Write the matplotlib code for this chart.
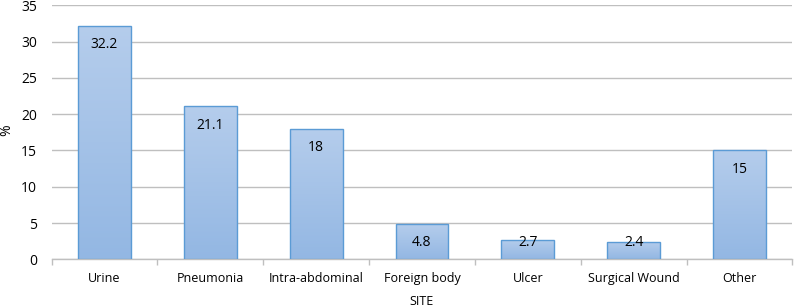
import numpy as np
import matplotlib
matplotlib.use("Agg")
import matplotlib.pyplot as plt
from matplotlib.colors import LinearSegmentedColormap

categories = ["Urine", "Pneumonia", "Intra-abdominal", "Foreign body", "Ulcer", "Surgical Wound", "Other"]
values = [32.2, 21.1, 18, 4.8, 2.7, 2.4, 15]
labels = ["32.2", "21.1", "18", "4.8", "2.7", "2.4", "15"]
yticks = [0, 5, 10, 15, 20, 25, 30, 35]

plt.rcParams['font.family'] = ['Open Sans', 'DejaVu Sans']

fig = plt.figure(figsize=(7.94, 3.07), dpi=100)
ax = fig.add_axes([0.0649, 0.1554, 0.9331, 0.8273])

x = np.arange(len(categories))
bars = ax.bar(x, values, width=0.5, color='none', edgecolor='#5b9bd5', linewidth=1.0, zorder=3)

cmap = LinearSegmentedColormap.from_list("g", ["#93b7e3", "#b5cdec"])
grad = np.linspace(0, 1, 256).reshape(-1, 1)
for b in bars:
    x0, y0 = b.get_x(), b.get_y()
    w, h = b.get_width(), b.get_height()
    im = ax.imshow(grad, cmap=cmap, origin='lower', aspect='auto',
                   extent=[x0, x0 + w, y0, y0 + h], zorder=2)
    im.set_clip_path(b)

for xi, v, lab in zip(x, values, labels):
    ax.text(xi, max(v - 2.6, 2.35), lab, ha='center', va='center', fontsize=10, color='#000000', zorder=4)

ax.set_xlim(-0.5, len(categories) - 0.5)
ax.set_ylim(0, 35)
ax.set_yticks(yticks)
ax.set_yticklabels([str(t) for t in yticks], fontsize=10)
ax.yaxis.grid(True, color='#bfbfbf', linewidth=1.0, zorder=0)
ax.set_axisbelow(True)
ax.tick_params(axis='y', length=0, pad=10.5)

ax.set_xticks(x)
ax.set_xticklabels(categories, fontsize=9)
ax.tick_params(axis='x', length=0, pad=9)
ax.set_xticks(np.arange(-0.5, len(categories), 1.0), minor=True)
ax.tick_params(axis='x', which='minor', length=4, color='#bfbfbf', width=1.0)

for s in ['left', 'right', 'top']:
    ax.spines[s].set_visible(False)
ax.spines['bottom'].set_color('#bfbfbf')
ax.spines['bottom'].set_linewidth(1.0)

ax.set_xlabel("SITE", fontsize=9, labelpad=7)
ax.set_ylabel("%", fontsize=10, va='center')
ax.yaxis.set_label_coords(-0.060, 0.509)

fig.savefig("out.png", dpi=100)
